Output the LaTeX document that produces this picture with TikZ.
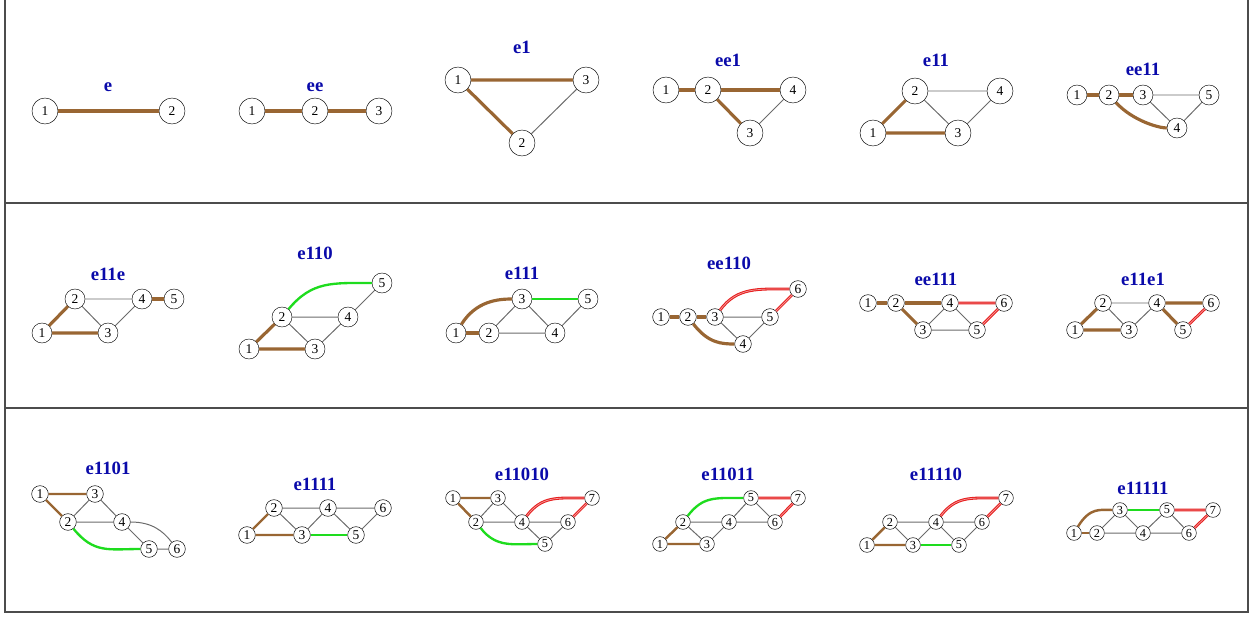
\documentclass[tikz,border=0pt]{standalone}
\usepackage{fontspec}
\setmainfont{Liberation Serif}
\definecolor{edgebrown}{RGB}{153,102,51}
\definecolor{edgegreen}{RGB}{30,220,30}
\definecolor{edgered}{RGB}{230,30,30}
\definecolor{titleblue}{RGB}{10,10,170}
\begin{document}
\begin{tikzpicture}[x=0.03cm,y=-0.03cm,
  vbig/.style={circle,draw,fill=white,inner sep=0pt,minimum size=0.78cm,font=\fontsize{11.5}{11}\selectfont},
  vmid/.style={vbig,minimum size=0.6cm},
  vsml/.style={vbig,minimum size=0.5cm},
  vtiny/.style={vbig,minimum size=0.44cm,font=\fontsize{10.5}{10}\selectfont},
  gtitle/.style={text=titleblue,font=\fontsize{16}{18}\selectfont\bfseries},
  brown edge/.style={edgebrown,line width=2.7pt},
  plain edge/.style={black!58,line width=0.85pt},
  green edge/.style={edgegreen,line width=2pt},
  red edge/.style={draw=edgered,double=edgered!45,double distance=0.6pt,line width=0.9pt},
  gridline/.style={black!70,line width=1.1pt}]
\useasboundingbox (0,0) rectangle (1253,618);
\draw[gridline] (5,0) -- (5,612) -- (1248,612) -- (1248,0);
\draw[gridline] (5,203) -- (1248,203);
\draw[gridline] (5,408) -- (1248,408);
% row 1
\node[gtitle] (e-t) at (108,87) {e};
\node[vbig] (e-1) at (45,111) {1};
\node[vbig] (e-2) at (172,111) {2};
\draw[brown edge] (e-1) -- (e-2);
\node[gtitle] (ee-t) at (315,87) {ee};
\node[vbig] (ee-1) at (252,111) {1};
\node[vbig] (ee-2) at (315,111) {2};
\node[vbig] (ee-3) at (379,111) {3};
\draw[brown edge] (ee-1) -- (ee-2) -- (ee-3);
\node[gtitle] (e1-t) at (522,47) {e1};
\node[vbig] (e1-1) at (458,80) {1};
\node[vbig] (e1-3) at (586,80) {3};
\node[vbig] (e1-2) at (522,143) {2};
\draw[brown edge] (e1-2) -- (e1-1) -- (e1-3);
\draw[plain edge] (e1-2) -- (e1-3);
\node[gtitle] (ee1-t) at (728,60) {ee1};
\node[vbig] (ee1-1) at (666,90) {1};
\node[vbig] (ee1-2) at (708,90) {2};
\node[vbig] (ee1-4) at (793,90) {4};
\node[vbig] (ee1-3) at (750,133) {3};
\draw[brown edge] (ee1-1) -- (ee1-2) -- (ee1-4);
\draw[brown edge] (ee1-2) -- (ee1-3);
\draw[plain edge] (ee1-3) -- (ee1-4);
\node[gtitle] (e11-t) at (936,60) {e11};
\node[vbig] (e11-2) at (915,91) {2};
\node[vbig] (e11-4) at (1000,91) {4};
\node[vbig] (e11-1) at (873,133) {1};
\node[vbig] (e11-3) at (958,133) {3};
\draw[brown edge] (e11-2) -- (e11-1) -- (e11-3);
\draw[plain edge] (e11-2) -- (e11-4) -- (e11-3) -- (e11-2);
\node[gtitle] (ee11-t) at (1143,69) {ee11};
\node[vmid] (ee11-1) at (1077,95) {1};
\node[vmid] (ee11-2) at (1109,95) {2};
\node[vmid] (ee11-3) at (1143,95) {3};
\node[vmid] (ee11-5) at (1209,95) {5};
\node[vmid] (ee11-4) at (1177,128) {4};
\draw[brown edge] (ee11-1) -- (ee11-2) -- (ee11-3);
\draw[brown edge] (ee11-2) .. controls +(24,26) and +(-18,0) .. (ee11-4);
\draw[plain edge] (ee11-3) -- (ee11-5) -- (ee11-4) -- (ee11-3);
% row 2
\node[gtitle] (e11e-t) at (108,274) {e11e};
\node[vmid] (e11e-2) at (75,299) {2};
\node[vmid] (e11e-4) at (142,299) {4};
\node[vmid] (e11e-5) at (174,299) {5};
\node[vmid] (e11e-1) at (42,333) {1};
\node[vmid] (e11e-3) at (108,333) {3};
\draw[brown edge] (e11e-2) -- (e11e-1) -- (e11e-3);
\draw[brown edge] (e11e-4) -- (e11e-5);
\draw[plain edge] (e11e-2) -- (e11e-4) -- (e11e-3) -- (e11e-2);
\node[gtitle] (e110-t) at (315,253) {e110};
\node[vmid] (e110-5) at (382,283) {5};
\node[vmid] (e110-2) at (282,317) {2};
\node[vmid] (e110-4) at (348,317) {4};
\node[vmid] (e110-1) at (249,349) {1};
\node[vmid] (e110-3) at (315,349) {3};
\draw[brown edge] (e110-2) -- (e110-1) -- (e110-3);
\draw[plain edge] (e110-2) -- (e110-4) -- (e110-3) -- (e110-2);
\draw[plain edge] (e110-4) -- (e110-5);
\draw[green edge] (e110-2) .. controls +(30,-36) and +(-50,0) .. (e110-5);
\node[gtitle] (e111-t) at (522,273) {e111};
\node[vmid] (e111-3) at (522,299) {3};
\node[vmid] (e111-5) at (588,299) {5};
\node[vmid] (e111-1) at (456,333) {1};
\node[vmid] (e111-2) at (489,333) {2};
\node[vmid] (e111-4) at (555,333) {4};
\draw[brown edge] (e111-1) -- (e111-2);
\draw[brown edge] (e111-1) .. controls +(20,-32) and +(-24,0) .. (e111-3);
\draw[plain edge] (e111-2) -- (e111-3) -- (e111-4) -- (e111-2);
\draw[plain edge] (e111-4) -- (e111-5);
\draw[green edge] (e111-3) -- (e111-5);
\node[gtitle] (ee110-t) at (729,263) {ee110};
\node[vsml] (ee110-1) at (661,317) {1};
\node[vsml] (ee110-2) at (688,317) {2};
\node[vsml] (ee110-3) at (715,317) {3};
\node[vsml] (ee110-5) at (770,317) {5};
\node[vsml] (ee110-6) at (798,289) {6};
\node[vsml] (ee110-4) at (743,344) {4};
\draw[brown edge] (ee110-1) -- (ee110-2) -- (ee110-3);
\draw[brown edge] (ee110-2) .. controls +(20,26) and +(-22,0) .. (ee110-4);
\draw[plain edge] (ee110-3) -- (ee110-5) -- (ee110-4) -- (ee110-3);
\draw[red edge] (ee110-3) .. controls +(22,-30) and +(-40,0) .. (ee110-6);
\draw[red edge] (ee110-5) -- (ee110-6);
\node[gtitle] (ee111-t) at (936,279) {ee111};
\node[vsml] (ee111-1) at (868,303) {1};
\node[vsml] (ee111-2) at (896,303) {2};
\node[vsml] (ee111-4) at (950,303) {4};
\node[vsml] (ee111-6) at (1004,303) {6};
\node[vsml] (ee111-3) at (923,330) {3};
\node[vsml] (ee111-5) at (977,330) {5};
\draw[brown edge] (ee111-1) -- (ee111-2) -- (ee111-4);
\draw[brown edge] (ee111-2) -- (ee111-3);
\draw[plain edge] (ee111-3) -- (ee111-4) -- (ee111-5) -- (ee111-3);
\draw[red edge] (ee111-4) -- (ee111-6) -- (ee111-5);
\node[gtitle] (e11e1-t) at (1143,279) {e11e1};
\node[vsml] (e11e1-2) at (1103,303) {2};
\node[vsml] (e11e1-4) at (1157,303) {4};
\node[vsml] (e11e1-6) at (1211,303) {6};
\node[vsml] (e11e1-1) at (1075,330) {1};
\node[vsml] (e11e1-3) at (1129,330) {3};
\node[vsml] (e11e1-5) at (1183,330) {5};
\draw[brown edge] (e11e1-2) -- (e11e1-1) -- (e11e1-3);
\draw[brown edge] (e11e1-6) -- (e11e1-4) -- (e11e1-5);
\draw[plain edge] (e11e1-2) -- (e11e1-4) -- (e11e1-3) -- (e11e1-2);
\draw[red edge] (e11e1-5) -- (e11e1-6);
% row 3
\begin{scope}[brown edge/.append style={line width=2.1pt}]
\node[gtitle] (e1101-t) at (108,468) {e1101};
\node[vsml] (e1101-1) at (40,494) {1};
\node[vsml] (e1101-3) at (95,494) {3};
\node[vsml] (e1101-2) at (68,522) {2};
\node[vsml] (e1101-4) at (122,522) {4};
\node[vsml] (e1101-5) at (149,549) {5};
\node[vsml] (e1101-6) at (177,549) {6};
\draw[brown edge] (e1101-2) -- (e1101-1) -- (e1101-3);
\draw[plain edge] (e1101-2) -- (e1101-3) -- (e1101-4) -- (e1101-2);
\draw[plain edge] (e1101-4) -- (e1101-5) -- (e1101-6);
\draw[plain edge] (e1101-4) .. controls +(30,0) and +(-14,-18) .. (e1101-6);
\draw[green edge] (e1101-2) .. controls +(26,32) and +(-40,0) .. (e1101-5);
\node[gtitle] (e1111-t) at (315,484) {e1111};
\node[vsml] (e1111-2) at (274,508) {2};
\node[vsml] (e1111-4) at (328,508) {4};
\node[vsml] (e1111-6) at (383,508) {6};
\node[vsml] (e1111-1) at (247,535) {1};
\node[vsml] (e1111-3) at (302,535) {3};
\node[vsml] (e1111-5) at (356,535) {5};
\draw[brown edge] (e1111-2) -- (e1111-1) -- (e1111-3);
\draw[plain edge] (e1111-2) -- (e1111-4) -- (e1111-3) -- (e1111-2);
\draw[plain edge] (e1111-4) -- (e1111-6) -- (e1111-5) -- (e1111-4);
\draw[green edge] (e1111-3) -- (e1111-5);
\node[gtitle] (e11010-t) at (522,474) {e11010};
\node[vtiny] (e11010-1) at (453,498) {1};
\node[vtiny] (e11010-3) at (498,498) {3};
\node[vtiny] (e11010-7) at (592,498) {7};
\node[vtiny] (e11010-2) at (476,522) {2};
\node[vtiny] (e11010-4) at (522,522) {4};
\node[vtiny] (e11010-6) at (568,522) {6};
\node[vtiny] (e11010-5) at (545,544) {5};
\draw[brown edge] (e11010-2) -- (e11010-1) -- (e11010-3);
\draw[plain edge] (e11010-2) -- (e11010-3) -- (e11010-4) -- (e11010-2);
\draw[plain edge] (e11010-4) -- (e11010-6) -- (e11010-5) -- (e11010-4);
\draw[green edge] (e11010-2) .. controls +(20,26) and +(-32,0) .. (e11010-5);
\draw[red edge] (e11010-4) .. controls +(20,-26) and +(-36,0) .. (e11010-7);
\draw[red edge] (e11010-6) -- (e11010-7);
\node[gtitle] (e11011-t) at (728,474) {e11011};
\node[vtiny] (e11011-5) at (751,498) {5};
\node[vtiny] (e11011-7) at (798,498) {7};
\node[vtiny] (e11011-2) at (683,522) {2};
\node[vtiny] (e11011-4) at (729,522) {4};
\node[vtiny] (e11011-6) at (775,522) {6};
\node[vtiny] (e11011-1) at (660,544) {1};
\node[vtiny] (e11011-3) at (707,544) {3};
\draw[brown edge] (e11011-2) -- (e11011-1) -- (e11011-3);
\draw[plain edge] (e11011-2) -- (e11011-4) -- (e11011-3) -- (e11011-2);
\draw[plain edge] (e11011-4) -- (e11011-5) -- (e11011-6) -- (e11011-4);
\draw[green edge] (e11011-2) .. controls +(20,-26) and +(-36,0) .. (e11011-5);
\draw[red edge] (e11011-5) -- (e11011-7) -- (e11011-6);
\node[gtitle] (e11110-t) at (936,474) {e11110};
\node[vtiny] (e11110-7) at (1006,498) {7};
\node[vtiny] (e11110-2) at (890,522) {2};
\node[vtiny] (e11110-4) at (936,522) {4};
\node[vtiny] (e11110-6) at (982,522) {6};
\node[vtiny] (e11110-1) at (867,545) {1};
\node[vtiny] (e11110-3) at (913,545) {3};
\node[vtiny] (e11110-5) at (959,545) {5};
\draw[brown edge] (e11110-2) -- (e11110-1) -- (e11110-3);
\draw[plain edge] (e11110-2) -- (e11110-4) -- (e11110-3) -- (e11110-2);
\draw[plain edge] (e11110-4) -- (e11110-6) -- (e11110-5) -- (e11110-4);
\draw[green edge] (e11110-3) -- (e11110-5);
\draw[red edge] (e11110-4) .. controls +(20,-26) and +(-36,0) .. (e11110-7);
\draw[red edge] (e11110-6) -- (e11110-7);
\node[gtitle] (e11111-t) at (1143,488) {e11111};
\node[vtiny] (e11111-3) at (1120,510) {3};
\node[vtiny] (e11111-5) at (1167,510) {5};
\node[vtiny] (e11111-7) at (1213,510) {7};
\node[vtiny] (e11111-1) at (1074,533) {1};
\node[vtiny] (e11111-2) at (1097,533) {2};
\node[vtiny] (e11111-4) at (1143,533) {4};
\node[vtiny] (e11111-6) at (1189,533) {6};
\draw[brown edge] (e11111-1) -- (e11111-2);
\draw[brown edge] (e11111-1) .. controls +(16,-26) and +(-20,0) .. (e11111-3);
\draw[plain edge] (e11111-2) -- (e11111-3) -- (e11111-4) -- (e11111-2);
\draw[plain edge] (e11111-4) -- (e11111-5) -- (e11111-6) -- (e11111-4);
\draw[green edge] (e11111-3) -- (e11111-5);
\draw[red edge] (e11111-5) -- (e11111-7) -- (e11111-6);
\end{scope}
\end{tikzpicture}
\end{document}
